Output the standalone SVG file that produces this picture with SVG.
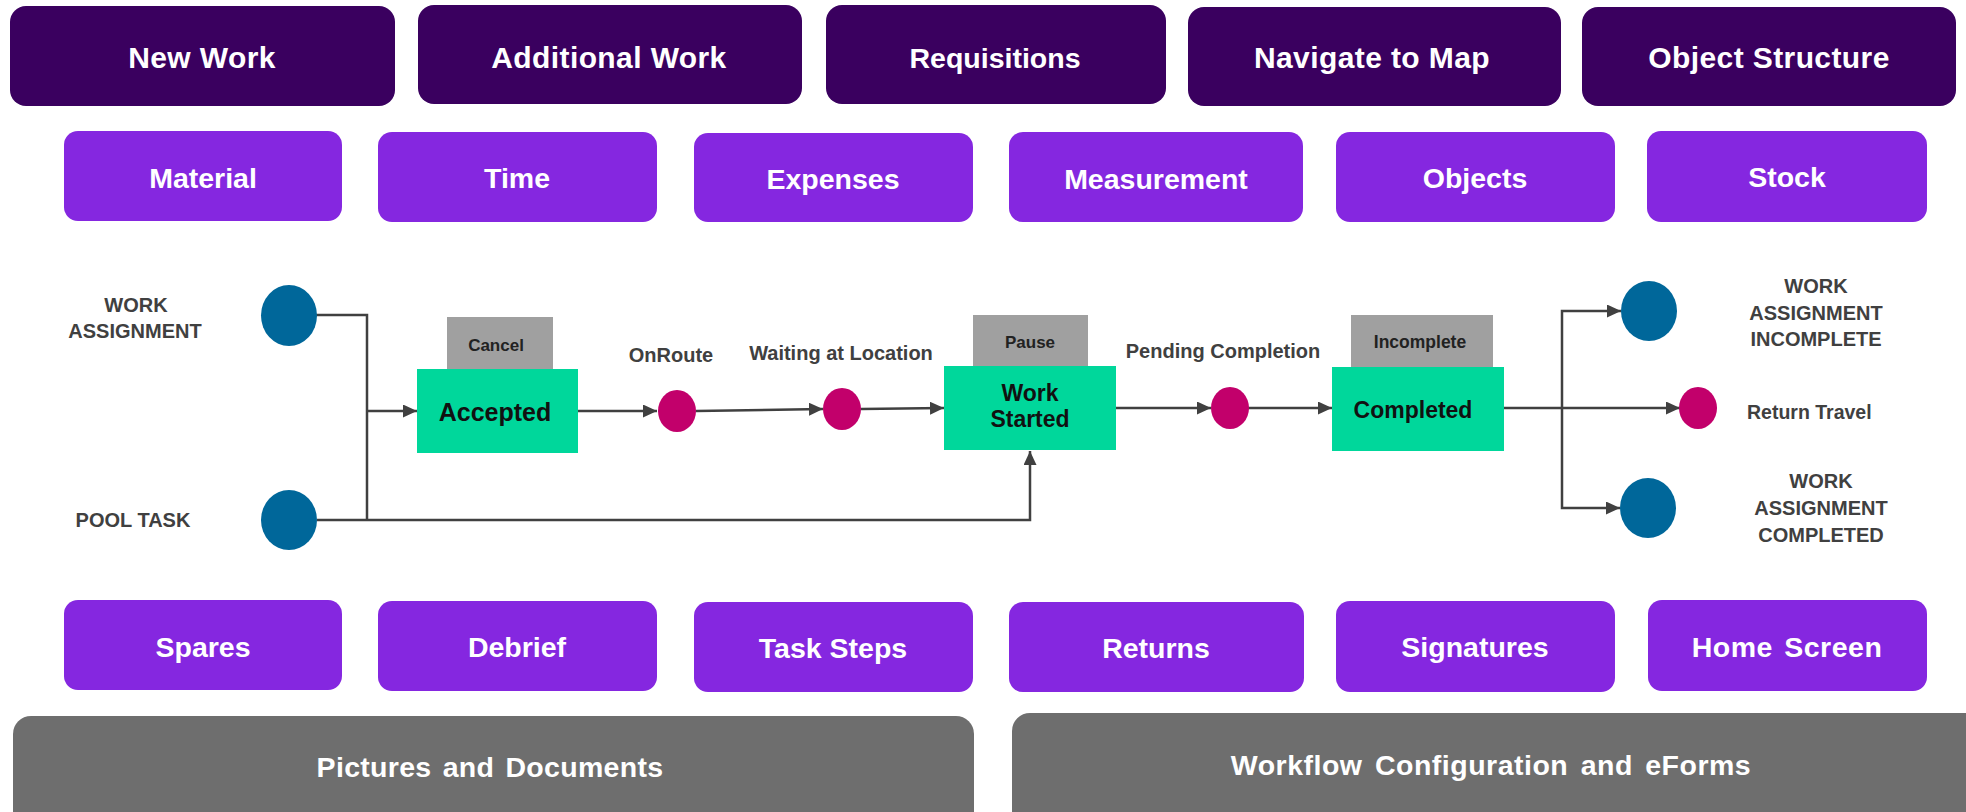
<svg xmlns="http://www.w3.org/2000/svg" width="1966" height="812" viewBox="0 0 1966 812">
<style>
.t{font-family:"Liberation Sans",Arial,sans-serif;font-weight:bold;text-anchor:middle}
.top rect{fill:#3a005f}
.top text{font-size:30px;letter-spacing:0.4px}
.mid rect{fill:#8527e0}
.btm rect{fill:#6e6e6e}
.lbl{fill:#ffffff;font-size:28.5px}
.st rect.g{fill:#a0a0a0}
.st rect.s{fill:#00d79b}
.small{font-size:17px;fill:#222}
.big{font-size:24px;fill:#111}
.cap{font-size:20px;fill:#404040}
.blue{fill:#00679a}
.mag{fill:#c2006b}
.conn path{fill:none;stroke:#404040;stroke-width:2.5}
</style>
<defs>
<marker id="arr" markerUnits="userSpaceOnUse" markerWidth="15" markerHeight="14" refX="14" refY="6.5" orient="auto">
<path d="M0,0 L14,6.5 L0,13 z" fill="#404040"/>
</marker>
</defs>

<g class="top">
<g id="new-work"><rect x="10" y="6" width="385" height="100" rx="16"/><text class="t lbl" x="202" y="68">New Work</text></g>
<g id="additional-work"><rect x="418" y="5" width="384" height="99" rx="16"/><text class="t lbl" x="609" y="68">Additional Work</text></g>
<g id="requisitions"><rect x="826" y="5" width="340" height="99" rx="16"/><text class="t lbl" x="995" y="68" style="font-size:28.5px;letter-spacing:0">Requisitions</text></g>
<g id="navigate-to-map"><rect x="1188" y="7" width="373" height="99" rx="16"/><text class="t lbl" x="1372" y="68">Navigate to Map</text></g>
<g id="object-structure"><rect x="1582" y="7" width="374" height="99" rx="16"/><text class="t lbl" x="1769" y="68">Object Structure</text></g>
</g>

<g class="mid">
<g id="material"><rect x="64" y="131" width="278" height="90" rx="14"/><text class="t lbl" x="203" y="188">Material</text></g>
<g id="time"><rect x="378" y="132" width="279" height="90" rx="14"/><text class="t lbl" x="517" y="188">Time</text></g>
<g id="expenses"><rect x="694" y="133" width="279" height="89" rx="14"/><text class="t lbl" x="833" y="189">Expenses</text></g>
<g id="measurement"><rect x="1009" y="132" width="294" height="90" rx="14"/><text class="t lbl" x="1156" y="189">Measurement</text></g>
<g id="objects"><rect x="1336" y="132" width="279" height="90" rx="14"/><text class="t lbl" x="1475" y="188">Objects</text></g>
<g id="stock"><rect x="1647" y="131" width="280" height="91" rx="14"/><text class="t lbl" x="1787" y="187">Stock</text></g>

<g id="spares"><rect x="64" y="600" width="278" height="90" rx="14"/><text class="t lbl" x="203" y="657">Spares</text></g>
<g id="debrief"><rect x="378" y="601" width="279" height="90" rx="14"/><text class="t lbl" x="517" y="657">Debrief</text></g>
<g id="task-steps"><rect x="694" y="602" width="279" height="90" rx="14"/><text class="t lbl" x="833" y="658">Task Steps</text></g>
<g id="returns"><rect x="1009" y="602" width="295" height="90" rx="14"/><text class="t lbl" x="1156" y="658">Returns</text></g>
<g id="signatures"><rect x="1336" y="601" width="279" height="91" rx="14"/><text class="t lbl" x="1475" y="657">Signatures</text></g>
<g id="home-screen"><rect x="1648" y="600" width="279" height="91" rx="14"/><text class="t lbl" x="1787" y="657" style="letter-spacing:0.5px;word-spacing:3px">Home Screen</text></g>
</g>

<g class="btm">
<g id="pictures-documents"><rect x="13" y="716" width="961" height="130" rx="18"/><text class="t lbl" x="490" y="777" style="word-spacing:3px;letter-spacing:0.3px">Pictures and Documents</text></g>
<g id="workflow-config"><rect x="1012" y="713" width="980" height="130" rx="18"/><text class="t lbl" x="1491" y="775" style="word-spacing:4px;letter-spacing:0.5px">Workflow Configuration and eForms</text></g>
</g>

<g class="conn">
<path d="M316,315 H367 V520"/>
<path d="M367,411 H417" marker-end="url(#arr)"/>
<path d="M317,520 H1030 V451" marker-end="url(#arr)"/>
<path d="M578,411 H657" marker-end="url(#arr)"/>
<path d="M696,411 L823,409" marker-end="url(#arr)"/>
<path d="M861,409 L944,408" marker-end="url(#arr)"/>
<path d="M1116,408 H1211" marker-end="url(#arr)"/>
<path d="M1248,408 H1332" marker-end="url(#arr)"/>
<path d="M1504,408 H1680" marker-end="url(#arr)"/>
<path d="M1562,408 V311 H1621" marker-end="url(#arr)"/>
<path d="M1562,408 V508 H1620" marker-end="url(#arr)"/>
</g>

<g id="work-assignment"><ellipse class="blue" cx="289" cy="315.5" rx="28" ry="30.5"/><text class="t cap" x="136" y="312">WORK</text><text class="t cap" x="135" y="338">ASSIGNMENT</text></g>
<g id="pool-task"><ellipse class="blue" cx="289" cy="520" rx="28" ry="30"/><text class="t cap" x="133" y="527">POOL TASK</text></g>

<g id="accepted" class="st"><rect class="g" x="447" y="317" width="106" height="52"/><text class="t small" x="496" y="351">Cancel</text><rect class="s" x="417" y="369" width="161" height="84"/><text class="t big" x="495" y="421" style="font-size:25px">Accepted</text></g>
<g id="onroute"><ellipse class="mag" cx="677" cy="411" rx="19" ry="21"/><text class="t cap" x="671" y="362">OnRoute</text></g>
<g id="waiting"><ellipse class="mag" cx="842" cy="409" rx="19" ry="21"/><text class="t cap" x="841" y="360">Waiting at Location</text></g>
<g id="work-started" class="st"><rect class="g" x="973" y="315" width="115" height="51"/><text class="t small" x="1030" y="348">Pause</text><rect class="s" x="944" y="366" width="172" height="84"/><text class="t big" x="1030" y="401" style="font-size:23px">Work</text><text class="t big" x="1030" y="427" style="font-size:23px">Started</text></g>
<g id="pending"><ellipse class="mag" cx="1230" cy="408" rx="19" ry="21"/><text class="t cap" x="1223" y="358">Pending Completion</text></g>
<g id="completed" class="st"><rect class="g" x="1351" y="315" width="142" height="52"/><text class="t small" x="1420" y="348" style="font-size:17.5px">Incomplete</text><rect class="s" x="1332" y="367" width="172" height="84"/><text class="t big" x="1413" y="418" style="font-size:23px">Completed</text></g>
<g id="wa-incomplete"><ellipse class="blue" cx="1649" cy="311" rx="28" ry="30"/><text class="t cap" x="1816" y="293">WORK</text><text class="t cap" x="1816" y="320">ASSIGNMENT</text><text class="t cap" x="1816" y="346">INCOMPLETE</text></g>
<g id="return-travel"><ellipse class="mag" cx="1698" cy="408" rx="19" ry="21"/><text class="t cap" x="1747" y="419" style="text-anchor:start;font-size:19.5px">Return Travel</text></g>
<g id="wa-completed"><ellipse class="blue" cx="1648" cy="508" rx="28" ry="30"/><text class="t cap" x="1821" y="488">WORK</text><text class="t cap" x="1821" y="515">ASSIGNMENT</text><text class="t cap" x="1821" y="542">COMPLETED</text></g>
</svg>
